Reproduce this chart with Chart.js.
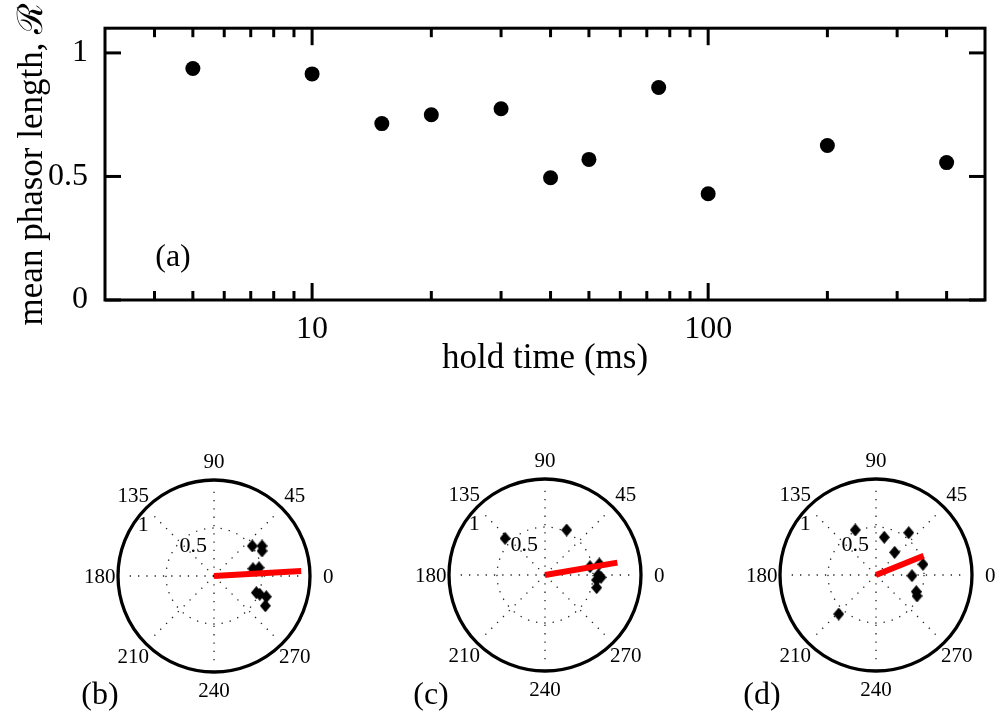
<!DOCTYPE html>
<html><head><meta charset="utf-8">
<script src="https://cdn.jsdelivr.net/npm/chart.js@4.4.1/dist/chart.umd.min.js"></script>
<style>
html,body{margin:0;padding:0;background:#fff;width:995px;height:713px;overflow:hidden;position:relative;font-family:"Liberation Serif","Times New Roman",serif;}
canvas{position:absolute;}
.lbl{position:absolute;font-size:32px;color:#000;line-height:1;white-space:nowrap;transform:translate(-50%,-50%);}
</style></head><body>
<canvas id="c0" width="995" height="380" style="left:0;top:0"></canvas>
<canvas id="cb" width="300" height="280"></canvas>
<canvas id="cc" width="300" height="280"></canvas>
<canvas id="cd" width="300" height="280"></canvas>
<div class="lbl" style="left:173px;top:255px">(a)</div>
<div class="lbl" style="left:100px;top:693px">(b)</div>
<div class="lbl" style="left:431px;top:693px">(c)</div>
<div class="lbl" style="left:762px;top:693px">(d)</div>
<script>
// ---- data: panel (a)
const holdTimes = [5, 10, 15, 20, 30, 40, 50, 75, 100, 200, 400];
const phasorLength = [0.937, 0.915, 0.714, 0.750, 0.774, 0.495, 0.569, 0.860, 0.430, 0.625, 0.556];
const xMajorTicks = [10, 100];
const xMinorTicks = [4, 5, 6, 7, 8, 9, 20, 30, 40, 50, 60, 70, 80, 90, 200, 300, 400];
const yTicks = [0, 0.5, 1];

// ---- data: polar panels (radius, angle in degrees)
const bRadius = [0.507, 0.590, 0.564, 0.413, 0.477, 0.474, 0.513, 0.586, 0.618];
const bAngle  = [38.1, 32.0, 27.5, 10.6, 10.4, -21.5, -21.8, -21.6, -30.1];
const cRadius = [0.565, 0.520, 0.477, 0.577, 0.555, 0.584, 0.540, 0.554];
const cAngle  = [137.5, 64.3, 10.5, 11.5, 0.0, -2.4, -5.5, -13.8];
const dRadius = [0.516, 0.402, 0.557, 0.306, 0.502, 0.375, 0.454, 0.480, 0.562];
const dAngle  = [114.7, 77.6, 52.3, 50.5, 12.8, -1.1, -22.5, -27.1, 226.3];
const meanRadius = [0.91, 0.765, 0.536];
const meanAngle  = [3.3, 9.7, 22.0];
const angleDirections = [0, 45, 90, 135, 180, 225, 270, 315];
const angleLabels = ['0', '45', '90', '135', '180', '210', '240', '270'];
const ringValues = [0.5];
const ringLabels = ['0.5', '1'];

const SERIF = '"Liberation Serif","Times New Roman",serif';

// ---- panel (a)
const frameTicks = {
  id: 'frameTicks',
  afterDraw(chart) {
    const {ctx, chartArea: {left, right, top, bottom}} = chart;
    const xs = chart.scales.x, ys = chart.scales.y;
    ctx.save();
    ctx.strokeStyle = '#000';
    ctx.lineWidth = 3;
    const seg = (x1, y1, x2, y2) => { ctx.beginPath(); ctx.moveTo(x1, y1); ctx.lineTo(x2, y2); ctx.stroke(); };
    xs.ticks.forEach(t => {
      const px = xs.getPixelForValue(t.value);
      const len = xMajorTicks.includes(Math.round(t.value)) ? 17 : 9;
      seg(px, bottom, px, bottom - len);
      seg(px, top, px, top + len);
    });
    ys.ticks.forEach(t => {
      const py = ys.getPixelForValue(t.value);
      seg(left, py, left + 16, py);
      seg(right, py, right - 16, py);
    });
    ctx.strokeRect(left, top, right - left, bottom - top);
    ctx.restore();
  }
};

new Chart(document.getElementById('c0'), {
  type: 'scatter',
  data: {datasets: [{
    data: holdTimes.map((t, i) => ({x: t, y: phasorLength[i]})),
    backgroundColor: '#000', borderColor: '#000', pointRadius: 7.5, pointHoverRadius: 7.5, borderWidth: 0
  }]},
  options: {
    responsive: false, animation: false, events: [],
    layout: {padding: {top: 24, right: 10, left: 0, bottom: 0}},
    plugins: {legend: {display: false}, tooltip: {enabled: false}},
    scales: {
      x: {
        type: 'logarithmic', min: 3, max: 500,
        grid: {display: false}, border: {display: false},
        afterBuildTicks: s => { s.ticks = [...xMinorTicks, ...xMajorTicks].sort((a, b) => a - b).map(v => ({value: v})); },
        afterFit: s => { s.height = 80; },
        ticks: {autoSkip: false, maxRotation: 0, minRotation: 0, padding: 2, color: '#000',
          font: {family: SERIF, size: 32},
          callback: v => xMajorTicks.includes(Math.round(v)) ? String(Math.round(v)) : ''},
        title: {display: true, text: 'hold time (ms)', color: '#000', font: {family: SERIF, size: 35}, padding: {top: 0, bottom: 0}}
      },
      y: {
        min: 0, max: 1.1,
        grid: {display: false}, border: {display: false},
        afterBuildTicks: s => { s.ticks = yTicks.map(v => ({value: v})); },
        afterFit: s => { s.width = 105; },
        ticks: {padding: 9, color: '#000', font: {family: SERIF, size: 32},
          callback: v => yTicks.includes(v) ? String(v) : ''},
        title: {display: true, text: 'mean phasor length, \u211B', color: '#000', font: {family: SERIF, size: 35}, padding: {top: 12, bottom: 0}}
      }
    }
  },
  plugins: [frameTicks]
});

// ---- polar panels
function diamondImage() {
  const c = document.createElement('canvas');
  c.width = 11; c.height = 13;
  const g = c.getContext('2d');
  g.fillStyle = '#000';
  g.beginPath(); g.moveTo(5.5, 0); g.lineTo(11, 6.5); g.lineTo(5.5, 13); g.lineTo(0, 6.5); g.closePath(); g.fill();
  return c;
}
const diamond = diamondImage();
const rad = d => d * Math.PI / 180;

const polarGrid = {
  id: 'polarGrid',
  beforeDatasetsDraw(chart) {
    const {ctx} = chart;
    const xs = chart.scales.x, ys = chart.scales.y;
    const cx = xs.getPixelForValue(0), cy = ys.getPixelForValue(0);
    const u = xs.getPixelForValue(1) - cx;
    ctx.save();
    ctx.strokeStyle = '#222';
    ctx.lineWidth = 1.3;
    ctx.setLineDash([1.3, 7]);
    ringValues.forEach(r => { ctx.beginPath(); ctx.arc(cx, cy, r * u, 0, Math.PI * 2); ctx.stroke(); });
    angleDirections.forEach(a => {
      ctx.beginPath(); ctx.moveTo(cx, cy);
      ctx.lineTo(cx + 0.925 * u * Math.cos(rad(a)), cy - 0.925 * u * Math.sin(rad(a)));
      ctx.stroke();
    });
    ctx.setLineDash([]);
    ctx.strokeStyle = '#000';
    ctx.lineWidth = 3.3;
    ctx.beginPath(); ctx.arc(cx, cy, u, 0, Math.PI * 2); ctx.stroke();
    // labels
    ctx.fillStyle = '#000';
    ctx.textAlign = 'center'; ctx.textBaseline = 'middle';
    ctx.font = '21px ' + SERIF;
    angleDirections.forEach((a, i) => {
      ctx.fillText(angleLabels[i], cx + 1.19 * u * Math.cos(rad(a)), cy - 1.19 * u * Math.sin(rad(a)) + 1);
    });
    ctx.font = '22px ' + SERIF;
    ctx.fillText(ringLabels[0], cx + 0.385 * u * Math.cos(rad(124)), cy - 0.385 * u * Math.sin(rad(124)) + 1);
    ctx.fillText(ringLabels[1], cx + 0.91 * u * Math.cos(rad(144)), cy - 0.91 * u * Math.sin(rad(144)) + 1);
    ctx.restore();
  }
};

function polarChart(id, cx, cy, radii, angles, k) {
  const el = document.getElementById(id);
  el.style.left = (cx - 150) + 'px';
  el.style.top = (cy - 140) + 'px';
  new Chart(el, {
    type: 'scatter',
    data: {datasets: [
      {
        data: [{x: 0, y: 0}, {x: meanRadius[k] * Math.cos(rad(meanAngle[k])), y: meanRadius[k] * Math.sin(rad(meanAngle[k]))}],
        showLine: true, borderColor: '#ff0000', borderWidth: 6, pointRadius: 0, borderCapStyle: 'butt'
      },
      {
        data: radii.map((r, i) => ({x: r * Math.cos(rad(angles[i])), y: r * Math.sin(rad(angles[i]))})),
        pointStyle: diamond, pointRadius: 6, backgroundColor: '#000', borderColor: '#000'
      }
    ]},
    options: {
      responsive: false, animation: false, events: [],
      layout: {padding: {left: 54, right: 54, top: 44, bottom: 44}},
      plugins: {legend: {display: false}, tooltip: {enabled: false}},
      scales: {
        x: {display: false, min: -1, max: 1},
        y: {display: false, min: -1, max: 1}
      }
    },
    plugins: [polarGrid]
  });
}
polarChart('cb', 214.4, 575.5, bRadius, bAngle, 0);
polarChart('cc', 545, 575.2, cRadius, cAngle, 1);
polarChart('cd', 875.5, 575.3, dRadius, dAngle, 2);
</script>
</body></html>
